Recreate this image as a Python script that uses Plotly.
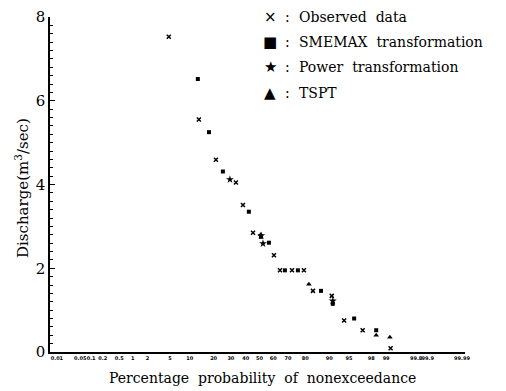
import math
import plotly.graph_objects as go

# ---------------- data (percent probability of nonexceedance, discharge m3/s)
obs_p = [4.8, 13.3, 21.2, 33.3, 38.1, 45.3, 60.5, 64.7, 72.5, 79.3, 83.7, 90.8, 94.0, 97.1, 99.2]
obs_q = [7.53, 5.55, 4.59, 4.05, 3.51, 2.85, 2.31, 1.95, 1.95, 1.95, 1.46, 1.34, 0.75, 0.52, 0.09]

sme_p = [12.9, 17.7, 25.1, 42.3, 51.1, 56.9, 68.0, 76.0, 87.1, 91.1, 95.9, 98.4]
sme_q = [6.52, 5.25, 4.31, 3.35, 2.75, 2.61, 1.95, 1.95, 1.46, 1.15, 0.80, 0.52]

pow_p = [29.4, 52.6, 51.3, 91.1]
pow_q = [4.12, 2.59, 2.78, 1.22]

tspt_p = [81.8, 50.9, 98.4, 99.17]
tspt_q = [1.62, 2.80, 0.40, 0.35]

tick_p = [0.01, 0.05, 0.1, 0.2, 0.5, 1, 2, 5, 10, 20, 30, 40, 50,
          60, 70, 80, 90, 95, 98, 99, 99.8, 99.9, 99.99]
tick_text = ["0.01", "0.05", "0.1", "0.2", "0.5", "1", "2", "5", "10",
             "20", "30", "40", "50", "60", "70", "80", "90", "95", "98", "99",
             "99.8", "99.9", "99.99"]
x_limits = [0.006, 99.992]

legend_syms = ["×", "■", "★", "▲"]
legend_names = ["Observed\u00a0 data", "SMEMAX\u00a0 transformation",
                "Power\u00a0 transformation", "TSPT"]


# normal probability scale (Acklam inverse normal CDF)
def norm_ppf(p):
    a = [-3.969683028665376e+01, 2.209460984245205e+02, -2.759285104469687e+02,
         1.383577518672690e+02, -3.066479806614716e+01, 2.506628277459239e+00]
    b = [-5.447609879822406e+01, 1.615858368580409e+02, -1.556989798598866e+02,
         6.680131188771972e+01, -1.328068155288572e+01]
    c = [-7.784894002430293e-03, -3.223964580411365e-01, -2.400758277161838e+00,
         -2.549732539343734e+00, 4.374664141464968e+00, 2.938163982698783e+00]
    d = [7.784695709041462e-03, 3.224671290700398e-01, 2.445134137142996e+00,
         3.754408661907416e+00]
    plow = 0.02425
    if p < plow:
        q = math.sqrt(-2 * math.log(p))
        return (((((c[0]*q+c[1])*q+c[2])*q+c[3])*q+c[4])*q+c[5]) / \
               ((((d[0]*q+d[1])*q+d[2])*q+d[3])*q+1)
    if p <= 1 - plow:
        q = p - 0.5
        r = q * q
        return (((((a[0]*r+a[1])*r+a[2])*r+a[3])*r+a[4])*r+a[5])*q / \
               (((((b[0]*r+b[1])*r+b[2])*r+b[3])*r+b[4])*r+1)
    q = math.sqrt(-2 * math.log(1 - p))
    return -(((((c[0]*q+c[1])*q+c[2])*q+c[3])*q+c[4])*q+c[5]) / \
            ((((d[0]*q+d[1])*q+d[2])*q+d[3])*q+1)


def z(vals):
    return [norm_ppf(v / 100.0) for v in vals]


fig = go.Figure()
fig.add_trace(go.Scatter(x=z(obs_p), y=obs_q, mode="markers",
                         marker=dict(symbol="x-thin", size=4, color="black",
                                     line=dict(width=1.5, color="black"))))
fig.add_trace(go.Scatter(x=z(sme_p), y=sme_q, mode="markers",
                         marker=dict(symbol="square", size=4, color="black")))
fig.add_trace(go.Scatter(x=z(pow_p), y=pow_q, mode="markers",
                         marker=dict(symbol="star", size=6, color="black")))
fig.add_trace(go.Scatter(x=z(tspt_p), y=tspt_q, mode="markers",
                         marker=dict(symbol="triangle-up", size=5, color="black")))

# page-pixel geometry of the plot area (used to place annotations)
PX_L, PX_R, PX_T, PX_B = 50, 465, 17, 352
W, H = PX_R - PX_L, PX_B - PX_T


def px(xp):
    return (xp - PX_L) / W


def py(yp):
    return 1 - (yp - PX_T) / H


serif = "DejaVu Serif"
ann = []
rows_y = [17, 42, 67, 93]
for sym, name, yy in zip(legend_syms, legend_names, rows_y):
    ann.append(dict(xref="paper", yref="paper", x=px(270), y=py(yy),
                    text=sym, showarrow=False, xanchor="center", yanchor="middle",
                    font=dict(family="DejaVu Sans", size=15, color="black")))
    ann.append(dict(xref="paper", yref="paper", x=px(287), y=py(yy),
                    text=":", showarrow=False, xanchor="center", yanchor="middle",
                    font=dict(family=serif, size=14, color="black")))
    ann.append(dict(xref="paper", yref="paper", x=px(297), y=py(yy),
                    text=name, showarrow=False, xanchor="left", yanchor="middle",
                    font=dict(family=serif, size=14, color="black")))

ann.append(dict(xref="paper", yref="paper", x=px(262), y=py(378),
                text="Percentage\u00a0 probability\u00a0 of\u00a0 nonexceedance",
                showarrow=False, xanchor="center", yanchor="middle",
                font=dict(family=serif, size=14, color="black")))
ann.append(dict(xref="paper", yref="paper", x=px(22), y=py(188),
                text="Discharge(m<sup>3</sup>/sec)", textangle=-90,
                showarrow=False, xanchor="center", yanchor="middle",
                font=dict(family=serif, size=15, color="black")))

# the page body has an 8 px default margin, so the figure is sized/offset to compensate
fig.update_layout(
    width=498, height=383,
    margin=dict(l=PX_L - 8, r=498 - (PX_R - 8), t=PX_T - 8, b=383 - (PX_B - 8),
                autoexpand=False),
    paper_bgcolor="white", plot_bgcolor="white",
    showlegend=False,
    annotations=ann,
    xaxis=dict(range=z(x_limits), tickvals=z(tick_p), ticktext=tick_text,
               automargin=False, tickangle=0,
               showgrid=False, zeroline=False, showline=True, linecolor="black",
               linewidth=2, ticks="", tickfont=dict(family="DejaVu Sans", size=5,
                                                  color="black", weight="bold")),
    yaxis=dict(range=[0, 8], tickvals=[0, 2, 4, 6, 8], showgrid=False, zeroline=False,
               automargin=False, ticklabeloverflow="allow",
               showline=True, linecolor="black", linewidth=1.5,
               ticks="inside", ticklen=5, tickwidth=1.2, tickcolor="black",
               minor=dict(dtick=0.2, ticks="inside", ticklen=3, tickwidth=1, tickcolor="black"),
               tickfont=dict(family=serif, size=15, color="black")),
)

fig.write_html("out.html")
